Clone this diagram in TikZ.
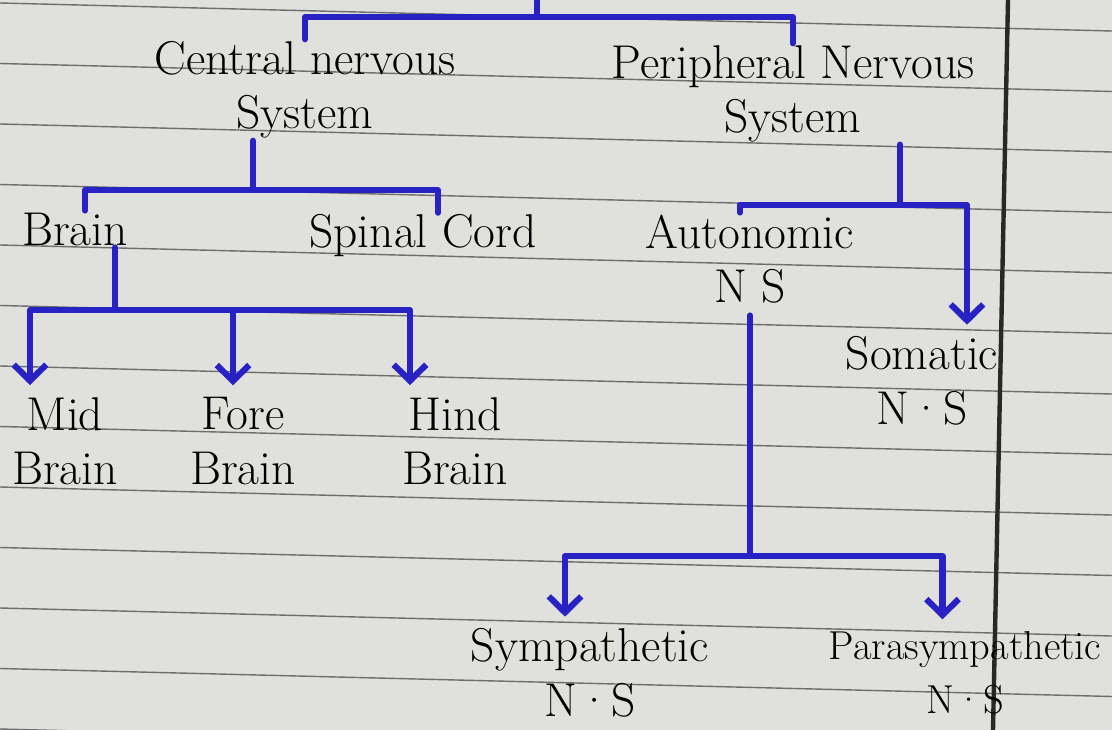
\documentclass[tikz,border=0pt]{standalone}
\usetikzlibrary{arrows.meta}
\definecolor{xBlue}{RGB}{40,34,196}
\definecolor{xPaper}{RGB}{224,224,220}
\definecolor{xRule}{RGB}{110,110,110}
\definecolor{xMargin}{RGB}{40,40,40}
\tikzset{
  term/.style={align=center, inner sep=1pt, font=\fontsize{27}{31}\selectfont},
  branch/.style={xBlue, line width=3.5pt, line cap=round, line join=round},
  feed/.style={xBlue, line width=3.5pt, line join=round, shorten >=2mm,
               -{Straight Barb[length=3.2mm, width=6.5mm]}},
}

\begin{document}
\begin{tikzpicture}[x=0.02cm, y=-0.02cm]
    % paper
    \fill[xPaper] (0,0) rectangle (1112,730);
    \useasboundingbox (0,0) rectangle (1112,730);
    \foreach \k in {0,...,12}
      \draw[xRule, line width=0.8pt] (0,{3+60.5*\k}) -- (1112,{31+60.5*\k});
    \draw[xMargin, line width=2.5pt] (1008,0) -- (993,730);

    \node[term] (cns)     at (305,90)  {Central nervous\\System};
    \node[term] (pns)     at (793,94)  {Peripheral Nervous\\System};
    \node[term] (brain)   at (75,229)  {Brain};
    \node[term] (spinal)  at (423,236) {Spinal Cord};
    \node[term] (auto)    at (750,259) {Autonomic\\N S};
    \node[term] (somatic) at (922,381) {Somatic\\N·S};
    \node[term] (mid)     at (65,441)  {Mid\\Brain};
    \node[term] (fore)    at (243,441) {Fore\\Brain};
    \node[term] (hind)    at (455,441) {Hind\\Brain};
    \node[term] (symp)    at (590,673) {Sympathetic\\N·S};
    \node[term, font=\fontsize{23}{31}\selectfont] (para) at (965,673) {Parasympathetic\\N·S};

    \coordinate (root)  at (537,-5);
    \coordinate (rootj) at (537,17);
    \coordinate (cnsj)  at (253,190);
    \coordinate (pnsj)  at (900,205);
    \coordinate (brainj) at (115,310);
    \coordinate (autoj) at (750,556);

    \draw[branch] (root) -- (rootj);
    \draw[branch] (cns.north) |- (rootj) -| (pns.north);
    \draw[branch] (cns.south -| cnsj) -- (cnsj);
    \draw[branch] ([xshift=2mm]brain.north) |- (cnsj) -| ([xshift=3mm]spinal.north);
    \draw[branch] (pns.south -| pnsj) -- (pnsj);
    \draw[branch] ([xshift=-2mm]auto.north) |- (pnsj);
    \draw[feed]   (pnsj) -| ([xshift=9mm]somatic.north);
    \draw[branch] (brain.south -| brainj) -- (brainj);
    \draw[feed]   (brainj) -| ([xshift=-7mm]mid.north);
    \draw[feed]   (brainj) -| ([xshift=-2mm]fore.north);
    \draw[feed]   (brainj) -| ([xshift=-9mm]hind.north);
    \draw[branch] ([yshift=-2mm]auto.south) -- (autoj);
    \draw[feed]   (autoj) -| ([xshift=-5mm]symp.north);
    \draw[feed]   (autoj) -| ([xshift=-4.5mm]para.north);
  \end{tikzpicture}
\end{document}
